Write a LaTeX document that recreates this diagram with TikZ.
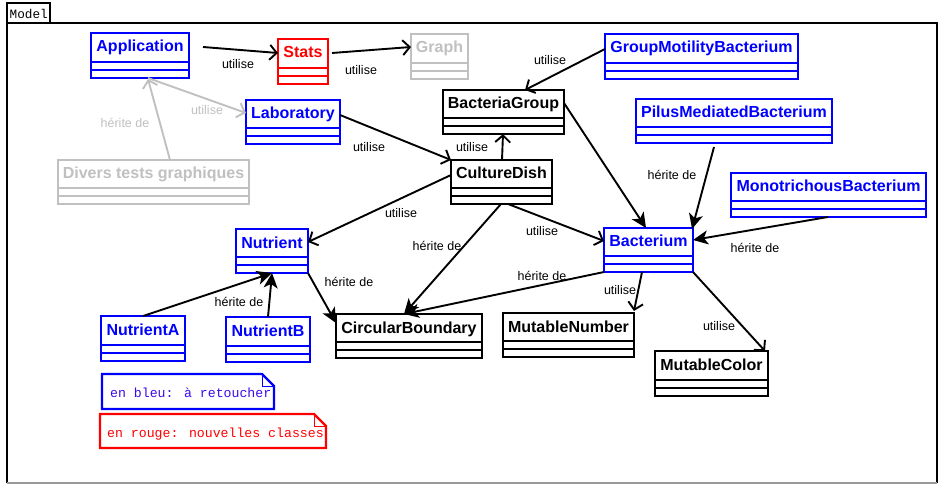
\documentclass[tikz,border=0pt]{standalone}
\usepackage{fontspec}
\newfontfamily\lsans{Liberation Sans}
\newfontfamily\lmono{Liberation Mono}
\usetikzlibrary{arrows.meta,calc}
\definecolor{umlblue}{RGB}{0,0,255}
\definecolor{umlred}{RGB}{255,0,0}
\definecolor{umlgray}{RGB}{192,192,192}
\definecolor{notetext}{RGB}{60,10,235}
\tikzset{
  classbox/.style={line width=2.2pt, fill=white, inner sep=0pt, outer sep=0pt},
  classline/.style={line width=2.2pt},
  classname/.style={font=\lsans\bfseries\fontsize{16}{19}\selectfont, inner sep=0pt, anchor=base},
  lab/.style={font=\lsans\fontsize{12.5}{15}\selectfont, inner sep=0pt},
  uses/.style={line width=1.9pt, -{Straight Barb[length=7pt,width=15pt,line width=1.9pt]}},
  inh/.style={line width=1.9pt, -{Stealth[length=15pt,width=14pt,inset=4pt]}},
  notebox/.style={line width=2.2pt, fill=white},
  notefont/.style={font=\lmono\fontsize{13.2}{15}\selectfont, inner sep=0pt, anchor=west},
}
\newcommand{\umlclass}[7]{%
  \node[classbox, draw=#6, minimum width={(#4-#2)*1pt}, minimum height={(#5-#3)*1pt}, anchor=north west] (#1) at (#2,#3) {};
  \node[classname, text=#6] (#1-name) at ([yshift=-19pt]#1.north) {#7};
  \draw[draw=#6, classline] ([yshift=16pt]#1.south west) -- ([yshift=16pt]#1.south east);
  \draw[draw=#6, classline] ([yshift=8pt]#1.south west) -- ([yshift=8pt]#1.south east);
}
\begin{document}
\begin{tikzpicture}[x=1pt,y=-1pt]
\useasboundingbox (0,0) rectangle (945,489);
% frame
\draw[line width=2.2pt] (7,483) -- (7,23) -- (937,23) -- (937,483);
\draw[line width=2pt, black!40] (7,483) -- (937,483);
\node[draw, line width=2pt, anchor=north west, minimum width=43pt, minimum height=20pt, inner sep=0pt, outer sep=0pt] (tab) at (7,3) {};
\node[font=\lmono\fontsize{12.7}{15}\selectfont, anchor=west, inner sep=0pt] (tabtext) at (9.5,13.5) {Model};

% classes
\umlclass{app}{91}{33}{189}{78}{umlblue}{Application}
\umlclass{stats}{278}{39}{328}{84}{umlred}{Stats}
\umlclass{graph}{411}{34}{468}{79}{umlgray}{Graph}
\umlclass{lab}{246}{100}{340}{144}{umlblue}{Laboratory}
\umlclass{divers}{58}{160}{249}{204}{umlgray}{Divers tests graphiques}
\umlclass{bgroup}{443}{90}{564}{134}{black}{BacteriaGroup}
\umlclass{culture}{451}{160}{552}{204}{black}{CultureDish}
\umlclass{gmb}{605}{34}{798}{79}{umlblue}{GroupMotilityBacterium}
\umlclass{pilus}{636}{99}{832}{143}{umlblue}{PilusMediatedBacterium}
\umlclass{mono}{731}{173}{926}{217}{umlblue}{MonotrichousBacterium}
\umlclass{bact}{604}{228}{693}{272}{umlblue}{Bacterium}
\umlclass{mutnum}{503}{313}{634}{357}{black}{MutableNumber}
\umlclass{mutcol}{655}{351}{768}{396}{black}{MutableColor}
\umlclass{circ}{336}{314}{482}{358}{black}{CircularBoundary}
\umlclass{nutrient}{236}{229}{308}{273}{umlblue}{Nutrient}
\umlclass{nutA}{101}{316}{185}{361}{umlblue}{NutrientA}
\umlclass{nutB}{226}{317}{310}{362}{umlblue}{NutrientB}

% connectors
\draw[uses] ($(app.north east)+(14,14)$) -- ($(stats.north west)+(0,14)$);
\draw[uses] ($(stats.north east)+(4,14)$) -- ($(graph.north west)+(0,13)$);
\draw[uses, draw=umlgray] ($(app.south west)+(57,0)$) -- ($(lab.north west)+(0,13)$);
\draw[uses, draw=umlgray] ($(divers.north west)+(112,0)$) -- ($(app.south west)+(57,1)$);
\draw[uses] ($(lab.north east)+(0,15)$) -- (culture.north west);
\draw[uses] ($(culture.north west)+(51,0)$) -- ($(bgroup.south west)+(60,0)$);
\draw[uses] ($(gmb.north west)+(0,15)$) -- ($(bgroup.north west)+(82,0)$);
\draw[inh] ($(bgroup.north east)+(0,13)$) -- ($(bact.north west)+(42,0)$);
\draw[inh] ($(pilus.south west)+(78,4)$) -- ($(bact.north east)+(-1,1)$);
\draw[inh] ($(mono.south west)+(97,0)$) -- ($(bact.north east)+(0,12)$);
\draw[uses] ($(culture.south west)+(57,0)$) -- ($(bact.north west)+(0,13)$);
\draw[uses] ($(culture.north west)+(0,15)$) -- ($(nutrient.north east)+(0,13)$);
\draw[inh] ($(culture.south west)+(50,0)$) -- ($(circ.north west)+(68,0)$);
\draw[inh] (bact.south west) -- ($(circ.north west)+(68,0)$);
\draw[inh] (nutrient.south east) -- ($(circ.north west)+(0,9)$);
\draw[inh] ($(nutA.north west)+(42,0)$) -- (nutrient.south);
\draw[inh] (nutB.north) -- (nutrient.south);
\draw[uses] ($(bact.south west)+(38,0)$) -- ($(mutnum.north east)+(0,-2)$);
\draw[uses] (bact.south east) -- ($(mutcol.north east)+(-3,0)$);

% connector labels
\node[lab] (l1) at (238,64) {utilise};
\node[lab] (l2) at (361,70) {utilise};
\node[lab, text=umlgray] (l3) at (207,110) {utilise};
\node[lab, text=umlgray] (l4) at (125,123) {hérite de};
\node[lab] (l5) at (369,147) {utilise};
\node[lab] (l6) at (472,147) {utilise};
\node[lab] (l7) at (550,60) {utilise};
\node[lab] (l8) at (672,175) {hérite de};
\node[lab] (l9) at (755,248) {hérite de};
\node[lab] (l10) at (542,231) {utilise};
\node[lab] (l11) at (401,213) {utilise};
\node[lab] (l12) at (437,246) {hérite de};
\node[lab] (l13) at (542,276) {hérite de};
\node[lab] (l14) at (349,282) {hérite de};
\node[lab] (l15) at (239,302) {hérite de};
\node[lab] (l16) at (620,290) {utilise};
\node[lab] (l17) at (719,326) {utilise};

% notes
\draw[notebox, draw=umlblue] (102,374) -- (262,374) -- (274,386) -- (274,409) -- (102,409) -- cycle;
\draw[line width=1pt, draw=umlblue] (262,374) -- (262,386) -- (274,386);
\node[notefont, text=notetext] (n1) at (110,393) {en bleu: à retoucher};
\draw[notebox, draw=umlred] (100,414) -- (314,414) -- (326,426) -- (326,448) -- (100,448) -- cycle;
\draw[line width=1pt, draw=umlred] (314,414) -- (314,426) -- (326,426);
\node[notefont, text=umlred] (n2) at (107,434) {en rouge: nouvelles classes};
\end{tikzpicture}
\end{document}
